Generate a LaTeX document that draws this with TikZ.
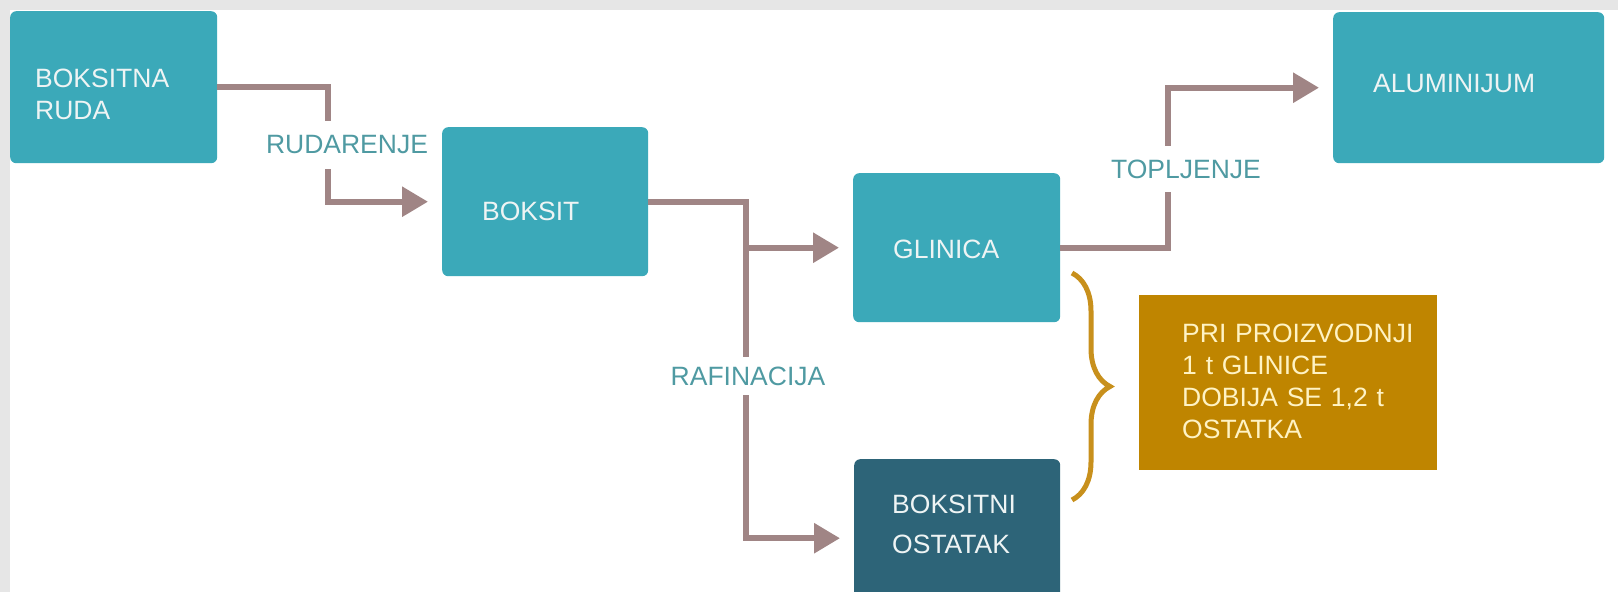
\documentclass[tikz,border=0pt]{standalone}
\usepackage{fontspec}
\setmainfont{Liberation Sans}
\usetikzlibrary{arrows.meta,decorations.pathreplacing}

\definecolor{framegray}{HTML}{E6E6E6}
\definecolor{boxteal}{HTML}{3BA9B9}
\definecolor{boxdark}{HTML}{2D6478}
\definecolor{boxgold}{HTML}{BF8500}
\definecolor{bracegold}{HTML}{C8901C}
\definecolor{flowmauve}{HTML}{A08585}
\definecolor{labelteal}{HTML}{4F9AA2}
\definecolor{textwhite}{HTML}{EEF4F4}
\definecolor{textcream}{HTML}{FFF3C4}

\tikzset{
  box/.style={fill=boxteal, rounded corners=6pt, text=textwhite, align=left,
    anchor=north west, inner xsep=40pt, inner ysep=0pt,
    font=\fontsize{26.5pt}{32pt}\selectfont},
  lbl/.style={fill=white, text=labelteal, inner xsep=2pt,
    font=\fontsize{26.5pt}{32pt}\selectfont},
  flow/.style={draw=flowmauve, line width=6pt,
    -{Triangle[length=26pt,width=29pt]}, shorten >=14pt},
  brace/.style={draw=bracegold, line width=5pt, decorate,
    decoration={brace, amplitude=38pt}}
}

\begin{document}
\begin{tikzpicture}[x=1pt, y=-1pt]
\useasboundingbox (0,0) rectangle (1618,592);
\clip (0,0) rectangle (1618,592);
\fill[framegray] (0,0) rectangle (1618,10);
\fill[framegray] (0,0) rectangle (10,592);

% stages
\node[box, inner xsep=25pt, text width=157pt, minimum height=152pt,
  text height=19pt, text depth=18pt] (ruda) at (10,11) {BOKSITNA\\RUDA};
\node[box, text width=126pt, minimum height=149pt,
  text height=37pt, text depth=0pt] (boksit) at (442,127) {BOKSIT};
\node[box, text width=127pt, minimum height=149pt,
  text height=22pt, text depth=0pt] (glinica) at (853,173) {GLINICA};
\node[box, text width=191pt, minimum height=151pt,
  text height=19pt, text depth=10pt] (alum) at (1333,12) {ALUMINIJUM};
\node[box, fill=boxdark, inner xsep=38pt, text width=130pt, minimum height=170pt,
  text height=19pt, text depth=81pt] (ostatak) at (854,459) {BOKSITNI\\[8pt]OSTATAK};
\node[box, fill=boxgold, text=textcream, rounded corners=0pt, inner xsep=43pt,
  text width=212pt, minimum height=175pt, text height=19pt, text depth=100pt] (note) at (1139,295)
  {\mbox{PRI PROIZVODNJI}\\1 t GLINICE\\DOBIJA SE 1,2 t\\OSTATKA};

% flows
\draw[flow] (ruda.east) -- ++(111,0) |- (boksit.west);
\draw[flow] (boksit.east) -- ++(98,0) coordinate (fork) |- (glinica.west);
\draw[flow] (fork) |- ([yshift=6pt]ostatak.west);
\draw[flow] (glinica.east) -- ++(108,0) |- (alum.west);

\node[lbl, inner ysep=15pt] (rudarenje) at (347,145) {RUDARENJE};
\node[lbl, inner ysep=10pt] (rafinacija) at (748,376) {RAFINACIJA};
\node[lbl, inner ysep=14pt] (topljenje) at (1186,169) {TOPLJENJE};

\draw[brace] (1072,273) -- (1072,500);
\end{tikzpicture}
\end{document}
